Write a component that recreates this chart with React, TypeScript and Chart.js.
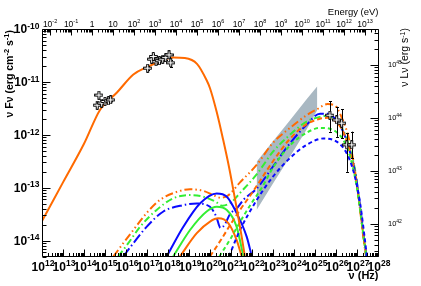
import React, { useEffect, useRef } from "react";
import { Chart, registerables } from "chart.js";

Chart.register(...registerables);

const H_EV = 4.135667e-15; // eV s  (top axis: E = h nu)
const LOG_L_OVER_F = 55.68; // log10(nuLnu / nuFnu) for right axis
const FONT = '"Liberation Sans", Arial, Helvetica, sans-serif';

const NU_MIN = 1e12;
const NU_MAX = 1e28;
const F_MIN = 5e-15;
const F_MAX = 1e-10;

// tick label exponents
const nuTickExps = [12, 13, 14, 15, 16, 17, 18, 19, 20, 21, 22, 23, 24, 25, 26, 27, 28];
const energyTickExps = [-2, -1, 0, 1, 2, 3, 4, 5, 6, 7, 8, 9, 10, 11, 12, 13];
const fluxTickExps = [-10, -11, -12, -13, -14];
const lumTickExps = [42, 43, 44, 45];

// ---- model curves: log10(nu [Hz]) and log10(nuFnu [erg cm-2 s-1]) ----
const synchLogNu = [12.0, 13.0, 14.0, 14.76, 15.57, 16.35, 17.0, 17.7, 18.25, 18.8, 19.38, 19.84, 20.0, 20.32, 20.63, 20.9, 21.11, 21.3, 21.51, 21.66];
const synchLogF = [-13.63, -12.9, -12.17, -11.53, -11.2, -10.86, -10.72, -10.6, -10.54, -10.55, -10.66, -10.97, -11.12, -11.57, -12.1, -12.6, -13.04, -13.45, -13.93, -14.3];

const blueSolidLogNu = [17.94, 18.73, 19.52, 20.32, 20.8, 21.27, 21.75, 21.99];
const blueSolidLogF = [-14.3, -13.74, -13.3, -13.11, -13.17, -13.48, -13.93, -14.3];
const greenSolidLogNu = [18.25, 19.05, 19.84, 20.32, 20.8, 21.27, 21.59];
const greenSolidLogF = [-14.3, -13.8, -13.45, -13.36, -13.42, -13.74, -14.3];
const orangeSolidLogNu = [18.57, 19.37, 20.0, 20.4, 20.87, 21.27, 21.51];
const orangeSolidLogF = [-14.3, -13.86, -13.64, -13.58, -13.67, -13.99, -14.3];

const orangeDashDotLogNu = [15.4, 15.87, 16.35, 16.98, 17.62, 18.41, 19.05, 19.68, 20.16, 20.5, 20.85, 21.43, 22.22, 23.0, 23.81, 24.6, 25.08, 25.6, 25.95, 26.3, 26.6, 26.9, 27.11, 27.3, 27.43];
const orangeDashDotLogF = [-14.3, -14.05, -13.8, -13.48, -13.23, -13.08, -13.03, -13.06, -13.14, -13.19, -13.15, -12.9, -12.57, -12.15, -11.87, -11.63, -11.52, -11.42, -11.45, -11.7, -12.05, -12.67, -13.3, -13.93, -14.3];

const greenDashDotLogNu = [15.63, 16.11, 16.67, 17.46, 18.25, 19.05, 19.68, 20.24, 20.6, 21.0, 21.43, 22.22, 23.0, 23.81, 24.6, 25.24, 25.6, 26.0, 26.35, 26.65, 26.93, 27.13, 27.32, 27.44];
const greenDashDotLogF = [-14.3, -14.05, -13.74, -13.42, -13.2, -13.14, -13.17, -13.26, -13.34, -13.28, -13.1, -12.75, -12.32, -12.0, -11.75, -11.66, -11.64, -11.72, -11.92, -12.25, -12.72, -13.32, -13.95, -14.3];

const blueDashDotLogNu = [15.87, 16.35, 16.98, 17.78, 18.73, 19.37, 20.0, 20.3, 20.5, 20.7, 20.95, 21.3, 21.59, 22.22, 23.0, 23.81, 24.6, 25.24, 25.6, 26.0, 26.35, 26.65, 26.95, 27.15, 27.34, 27.46];
const blueDashDotLogF = [-14.3, -14.05, -13.74, -13.45, -13.33, -13.3, -13.36, -13.55, -13.76, -13.7, -13.5, -13.38, -13.23, -13.02, -12.6, -12.16, -11.81, -11.6, -11.6, -11.72, -11.95, -12.3, -12.8, -13.35, -13.97, -14.3];

const orangeDashLogNu = [20.0, 20.5, 21.0, 21.43, 22.0, 22.5, 23.0, 23.8, 24.6, 25.2, 25.6, 26.0, 26.35, 26.65, 26.93, 27.13, 27.32, 27.44];
const orangeDashLogF = [-14.3, -14.0, -13.68, -13.42, -13.1, -12.8, -12.5, -12.08, -11.8, -11.7, -11.68, -11.75, -11.95, -12.3, -12.8, -13.35, -13.95, -14.3];

const greenDashLogNu = [20.45, 21.0, 21.5, 22.0, 22.5, 23.0, 23.81, 24.6, 25.24, 25.87, 26.35, 26.67, 26.95, 27.15, 27.33, 27.45];
const greenDashLogF = [-14.3, -13.95, -13.6, -13.28, -12.98, -12.62, -12.2, -11.96, -11.87, -11.91, -12.1, -12.41, -12.9, -13.42, -13.97, -14.3];

const blueDashLogNu = [20.9, 21.43, 22.2, 23.0, 23.81, 24.6, 25.4, 26.03, 26.51, 26.9, 27.15, 27.35, 27.47];
const blueDashLogF = [-14.3, -13.8, -13.25, -12.79, -12.44, -12.19, -12.07, -12.13, -12.35, -12.79, -13.3, -13.9, -14.3];

// Fermi-LAT butterfly
const bandLogNu = [22.22, 23.0, 23.8, 24.6, 25.11];
const bandUpperLogF = [-12.51, -12.12, -11.73, -11.33, -11.08];
const bandLowerLogF = [-13.42, -12.92, -12.42, -11.9, -11.53];

// ---- data points ----
const optLogNu = [14.63, 14.71, 14.84, 15.0, 15.16, 15.27];
const optLogF = [-11.44, -11.25, -11.4, -11.37, -11.36, -11.34];

const xrayLogNu = [17.03, 17.22, 17.3, 17.43, 17.59, 17.75, 17.89, 18.05, 18.13];
const xrayLogF = [-10.74, -10.57, -10.52, -10.62, -10.6, -10.57, -10.54, -10.49, -10.64];
const xrayErrLo = [-10.78, -10.61, -10.56, -10.66, -10.64, -10.61, -10.58, -10.53, -10.72];
const xrayErrHi = [-10.7, -10.53, -10.48, -10.58, -10.56, -10.53, -10.5, -10.45, -10.58];

const vheLogNu = [25.71, 26.03, 26.27, 26.51, 26.75];
const vheLogF = [-11.63, -11.72, -11.78, -12.19, -12.19];
const vheErrLo = [-11.94, -12.04, -12.07, -12.7, -12.44];
const vheErrHi = [-11.37, -11.47, -11.52, -11.97, -11.94];

const ORANGE = "#ff6a00";
const GREEN = "#33ee33";
const BLUE = "#0a0aff";
const BAND = "#a9b8c2";

const pts = (nu: number[], f: number[]) => nu.map((n, i) => ({ x: Math.pow(10, n), y: Math.pow(10, f[i]) }));

function lineDs(nu: number[], f: number[], color: string, dash: number[], order = 5, width = 2) {
  return {
    data: pts(nu, f),
    showLine: true,
    borderColor: color,
    borderWidth: width,
    borderDash: dash,
    pointRadius: 0,
    fill: false,
    cubicInterpolationMode: "monotone",
    order,
  } as any;
}

function makeCross(): HTMLCanvasElement {
  const c = document.createElement("canvas");
  c.width = 9;
  c.height = 9;
  const g = c.getContext("2d")!;
  const o0 = 0.5, i0 = 3.5, i1 = 5.5, o1 = 8.5;
  const p = [[i0, o0], [i1, o0], [i1, i0], [o1, i0], [o1, i1], [i1, i1], [i1, o1], [i0, o1], [i0, i1], [o0, i1], [o0, i0], [i0, i0]];
  g.beginPath();
  p.forEach(([x, y], i) => (i ? g.lineTo(x, y) : g.moveTo(x, y)));
  g.closePath();
  g.fillStyle = "#fff";
  g.fill();
  g.strokeStyle = "#000";
  g.lineWidth = 1;
  g.stroke();
  return c;
}

function font(size: number, bold: boolean) {
  return `${bold ? "bold " : ""}${size}px ${FONT}`;
}

type Seg = { t: string; sup?: boolean };

function drawRich(ctx: CanvasRenderingContext2D, segs: Seg[], x: number, y: number, size: number, supSize: number, bold: boolean, align: "left" | "center" | "right", raise: number) {
  let total = 0;
  const widths = segs.map((s) => {
    ctx.font = font(s.sup ? supSize : size, bold);
    const w = ctx.measureText(s.t).width;
    total += w;
    return w;
  });
  let sx = align === "left" ? x : align === "center" ? x - total / 2 : x - total;
  ctx.textAlign = "left";
  ctx.textBaseline = "alphabetic";
  segs.forEach((s, i) => {
    ctx.font = font(s.sup ? supSize : size, bold);
    ctx.fillText(s.t, sx, s.sup ? y - raise : y);
    sx += widths[i];
  });
}

const rootAxes = {
  id: "rootAxes",
  afterDraw(chart: any) {
    const { ctx, chartArea: a, scales } = chart;
    const xs = scales.x, ys = scales.y;
    const L = Math.floor(a.left) + 0.5, R = Math.floor(a.right) + 0.5;
    const T = Math.floor(a.top) + 0.5, B = Math.floor(a.bottom) + 0.5;
    ctx.save();
    ctx.strokeStyle = "#000";
    ctx.lineWidth = 1;
    ctx.beginPath();
    ctx.rect(L, T, R - L, B - T);
    ctx.stroke();

    ctx.beginPath();
    // bottom (frequency)
    for (let k = 12; k <= 28; k++) for (let m = 1; m <= 9; m++) {
      const v = m * Math.pow(10, k);
      if (v < NU_MIN * 0.999 || v > NU_MAX * 1.001) continue;
      const px = Math.round(xs.getPixelForValue(v)) + 0.5;
      const len = m === 1 ? 7 : 3.5;
      ctx.moveTo(px, B); ctx.lineTo(px, B - len);
    }
    // top (energy)
    for (let k = -3; k <= 13; k++) for (let m = 1; m <= 9; m++) {
      const e = m * Math.pow(10, k);
      const v = e / H_EV;
      if (v < NU_MIN || v > NU_MAX) continue;
      const px = Math.round(xs.getPixelForValue(v)) + 0.5;
      const len = m === 1 ? 6 : 3;
      ctx.moveTo(px, T); ctx.lineTo(px, T + len);
    }
    // left (flux)
    for (let k = -15; k <= -10; k++) for (let m = 1; m <= 9; m++) {
      const v = m * Math.pow(10, k);
      if (v < F_MIN * 0.999 || v > F_MAX * 1.001) continue;
      const py = Math.round(ys.getPixelForValue(v)) + 0.5;
      const len = m === 1 ? 8 : 4;
      ctx.moveTo(L, py); ctx.lineTo(L + len, py);
    }
    // right (luminosity)
    for (let k = 41; k <= 45; k++) for (let m = 1; m <= 9; m++) {
      const v = m * Math.pow(10, k - LOG_L_OVER_F);
      if (v < F_MIN || v > F_MAX) continue;
      const py = Math.round(ys.getPixelForValue(v)) + 0.5;
      const len = m === 1 ? 8 : 4;
      ctx.moveTo(R, py); ctx.lineTo(R - len, py);
    }
    ctx.stroke();

    ctx.fillStyle = "#000";
    // bottom labels
    nuTickExps.forEach((k) => {
      const px = xs.getPixelForValue(Math.pow(10, k));
      drawRich(ctx, [{ t: "10" }, { t: String(k), sup: true }], px + 1, 270.5, 12, 8.5, true, "center", 4.5);
    });
    // top labels
    energyTickExps.forEach((k) => {
      const px = xs.getPixelForValue(Math.pow(10, k) / H_EV);
      const segs: Seg[] = k === 0 ? [{ t: "1" }] : k === 1 ? [{ t: "10" }] : [{ t: "10" }, { t: String(k), sup: true }];
      drawRich(ctx, segs, px, 26.5, 8.5, 5.5, false, "center", 3.5);
    });
    // left labels
    fluxTickExps.forEach((k) => {
      const py = ys.getPixelForValue(Math.pow(10, k));
      drawRich(ctx, [{ t: "10" }, { t: String(k), sup: true }], 39.5, py + 4.3, 12, 8.5, true, "right", 4.5);
    });
    // right labels
    lumTickExps.forEach((k) => {
      const py = ys.getPixelForValue(Math.pow(10, k - LOG_L_OVER_F));
      drawRich(ctx, [{ t: "10" }, { t: String(k), sup: true }], 388, py + 2, 7.5, 5, false, "left", 3);
    });

    // titles
    drawRich(ctx, [{ t: "ν (Hz)" }], 378.5, 279, 11, 8, true, "right", 4);
    drawRich(ctx, [{ t: "Energy (eV)" }], 378.5, 14.5, 9.5, 6, false, "right", 3);

    ctx.save();
    ctx.translate(13, 30);
    ctx.rotate(-Math.PI / 2);
    drawRich(ctx, [{ t: "ν Fν (erg cm" }, { t: "-2", sup: true }, { t: " s" }, { t: "-1", sup: true }, { t: ")" }], 0, 0, 10.5, 7.5, true, "right", 4);
    ctx.restore();

    ctx.save();
    ctx.translate(408, 28);
    ctx.rotate(-Math.PI / 2);
    drawRich(ctx, [{ t: "ν Lν (erg s" }, { t: "-1", sup: true }, { t: ")" }], 0, 0, 10.5, 7, false, "right", 3.5);
    ctx.restore();

    ctx.restore();
  },
};

const errorBars = {
  id: "errorBars",
  beforeDatasetDraw(chart: any, args: any) {
    const ds = chart.data.datasets[args.index];
    if (ds.label !== "data") return;
    const { ctx, scales } = chart;
    const xs = scales.x, ys = scales.y;
    const nus = [...xrayLogNu, ...vheLogNu];
    const los = [...xrayErrLo, ...vheErrLo];
    const his = [...xrayErrHi, ...vheErrHi];
    ctx.save();
    ctx.strokeStyle = "#000";
    ctx.lineWidth = 1;
    ctx.beginPath();
    nus.forEach((n, i) => {
      const px = Math.round(xs.getPixelForValue(Math.pow(10, n))) + 0.5;
      const y1 = ys.getPixelForValue(Math.pow(10, los[i]));
      const y2 = ys.getPixelForValue(Math.pow(10, his[i]));
      ctx.moveTo(px, y1); ctx.lineTo(px, y2);
      ctx.moveTo(px - 1.5, Math.round(y1) + 0.5); ctx.lineTo(px + 1.5, Math.round(y1) + 0.5);
      ctx.moveTo(px - 1.5, Math.round(y2) + 0.5); ctx.lineTo(px + 1.5, Math.round(y2) + 0.5);
    });
    ctx.stroke();
    ctx.restore();
  },
};

export default function App() {
  const ref = useRef<HTMLCanvasElement>(null);
  useEffect(() => {
    const cv = ref.current!;
    const cross = makeCross();
    const datasets: any[] = [
      {
        data: pts(bandLogNu, bandUpperLogF),
        showLine: true,
        borderColor: "rgba(0,0,0,0)",
        borderWidth: 0,
        pointRadius: 0,
        backgroundColor: BAND,
        fill: "+1",
        order: 10,
      },
      {
        data: pts(bandLogNu, bandLowerLogF),
        showLine: true,
        borderColor: "rgba(0,0,0,0)",
        borderWidth: 0,
        pointRadius: 0,
        fill: false,
        order: 10,
      },
      lineDs(blueDashLogNu, blueDashLogF, BLUE, [4, 3]),
      lineDs(greenDashLogNu, greenDashLogF, GREEN, [4, 3]),
      lineDs(orangeDashLogNu, orangeDashLogF, ORANGE, [5, 3]),
      lineDs(orangeSolidLogNu, orangeSolidLogF, ORANGE, []),
      lineDs(greenSolidLogNu, greenSolidLogF, GREEN, []),
      lineDs(blueSolidLogNu, blueSolidLogF, BLUE, []),
      lineDs(blueDashDotLogNu, blueDashDotLogF, BLUE, [10, 3, 1.5, 3]),
      lineDs(greenDashDotLogNu, greenDashDotLogF, GREEN, [7, 3, 1.5, 3]),
      lineDs(orangeDashDotLogNu, orangeDashDotLogF, ORANGE, [8, 3, 1.5, 3, 1.5, 3]),
      lineDs(synchLogNu, synchLogF, ORANGE, [], 4),
      {
        label: "data",
        data: [...pts(optLogNu, optLogF), ...pts(xrayLogNu, xrayLogF), ...pts(vheLogNu, vheLogF)],
        showLine: false,
        pointStyle: cross,
        pointRadius: 4,
        order: 0,
      },
    ];
    const chart = new Chart(cv, {
      type: "scatter",
      data: { datasets },
      options: {
        responsive: false,
        animation: false,
        devicePixelRatio: 1,
        events: [],
        layout: { padding: { left: 42, right: 43, top: 29, bottom: 29.5 } },
        plugins: { legend: { display: false }, tooltip: { enabled: false } },
        scales: {
          x: { type: "logarithmic", min: NU_MIN, max: NU_MAX, display: false },
          y: { type: "logarithmic", min: F_MIN, max: F_MAX, display: false },
        },
      } as any,
      plugins: [rootAxes, errorBars],
    });
    return () => chart.destroy();
  }, []);
  return (
    <div style={{ position: "fixed", left: 0, top: 0, width: 421, height: 286, background: "#fff" }}>
      <canvas ref={ref} width={421} height={286} style={{ display: "block", width: 421, height: 286 }} />
    </div>
  );
}
